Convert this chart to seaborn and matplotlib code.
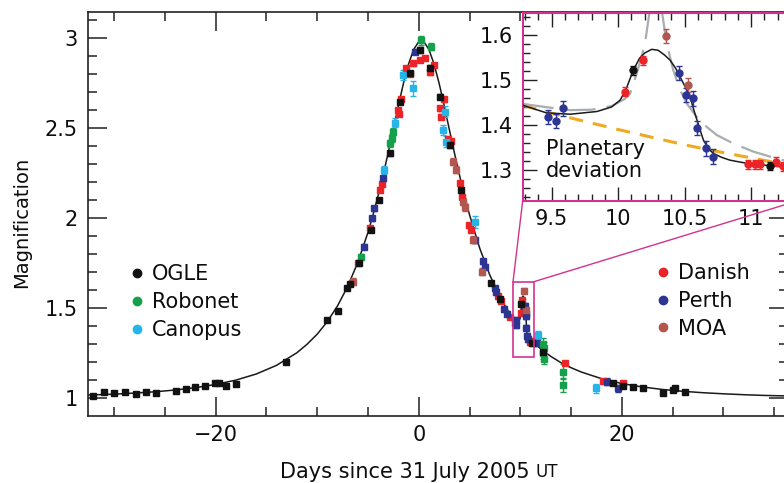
import matplotlib
matplotlib.use("Agg")
import matplotlib.pyplot as plt
import seaborn as sns
from matplotlib.lines import Line2D
from matplotlib.patches import Rectangle, ConnectionPatch
from matplotlib.ticker import MultipleLocator, FuncFormatter

sns.set_theme(style="ticks")
plt.rcParams["font.family"] = ["DejaVu Sans"]
plt.rcParams["axes.unicode_minus"] = True

# ---------------------------------------------------------------- model curves
# best-fit planetary model (days since 31 July 2005, magnification)
model_t = [-32.6, -30, -28, -26, -24, -22, -20, -18, -16, -14, -12, -11, -10, -9, -8, -7, -6, -5,
           -4.5, -4, -3.5, -3, -2.5, -2, -1.5, -1, -0.5, 0, 0.25, 0.5, 1, 1.5, 2, 2.5, 3, 3.5, 4,
           4.5, 5, 6, 7, 8, 8.5, 9,
           9.282, 9.46, 9.64, 9.84, 9.95, 10.014, 10.06, 10.114, 10.16, 10.2, 10.252, 10.3, 10.35,
           10.39, 10.43, 10.465, 10.5, 10.54, 10.57, 10.60, 10.64, 10.68, 10.715, 10.78, 10.84,
           10.93, 11.016, 11.13, 11.24, 11.352,
           11.75, 12.25, 13, 14, 15, 16, 18, 20, 22, 24, 26, 28, 30, 32, 34, 36.4]
model_a = [1.018, 1.023, 1.029, 1.036, 1.046, 1.059, 1.077, 1.101, 1.135, 1.183, 1.253, 1.300,
           1.356, 1.426, 1.513, 1.621, 1.755, 1.921, 2.019, 2.126, 2.242, 2.366, 2.496, 2.627,
           2.751, 2.858, 2.938, 2.981, 2.987, 2.981, 2.938, 2.858, 2.751, 2.627, 2.496, 2.366,
           2.242, 2.126, 2.019, 1.834, 1.684, 1.564, 1.513, 1.467,
           1.444, 1.427, 1.424, 1.430, 1.440, 1.455, 1.480, 1.522, 1.548, 1.560, 1.568, 1.566,
           1.555, 1.544, 1.527, 1.507, 1.487, 1.463, 1.432, 1.404, 1.367, 1.347, 1.337, 1.328,
           1.322, 1.317, 1.313, 1.310, 1.307, 1.304,
           1.287, 1.264, 1.233, 1.198, 1.170, 1.146, 1.109, 1.082, 1.063, 1.049, 1.039, 1.031,
           1.025, 1.020, 1.016, 1.013]

# single-lens (no planet) model across the anomaly
nopl_t = [9.282, 9.5, 9.75, 10.0, 10.25, 10.5, 10.75, 11.0, 11.25, 11.352]
nopl_a = [1.444, 1.426, 1.408, 1.390, 1.373, 1.356, 1.341, 1.327, 1.313, 1.307]

# alternative binary-source fit (two branches around the spike)
alt1_t = [9.282, 9.45, 9.64, 9.8, 9.95, 10.05, 10.09, 10.14, 10.2, 10.24]
alt1_a = [1.447, 1.440, 1.433, 1.434, 1.442, 1.458, 1.470, 1.515, 1.578, 1.66]
alt2_t = [10.327, 10.365, 10.414, 10.465, 10.515, 10.59, 10.665, 10.74, 10.865, 11.016, 11.14,
          11.24, 11.352]
alt2_a = [1.656, 1.580, 1.522, 1.478, 1.448, 1.418, 1.396, 1.378, 1.359, 1.341, 1.330, 1.322,
          1.316]

# ---------------------------------------------------------------- photometry
ogle_t = [-32.09, -31.03, -30.02, -28.87, -27.88, -26.83, -25.91, -23.94, -22.96, -22.0, -21.08,
          -20.1, -19.67, -18.95, -17.96, -13.03, -9.0, -7.95, -7.03, -6.8, -5.88, -4.66, -3.91,
          -2.86, -1.87, -0.89, 0.1, 1.08, 2.07, 3.05, 4.14, 7.09, 7.98, 10.114, 11.14, 12.19,
          19.08, 20.13, 21.11, 22.1, 24.0, 24.99, 25.2, 26.2]
ogle_a = [1.014, 1.037, 1.028, 1.037, 1.024, 1.033, 1.028, 1.042, 1.053, 1.063, 1.068, 1.083,
          1.083, 1.070, 1.078, 1.200, 1.435, 1.485, 1.611, 1.633, 1.753, 1.935, 2.102, 2.361,
          2.648, 2.806, 2.935, 2.833, 2.676, 2.407, 2.157, 1.639, 1.550, 1.522, 1.309, 1.259,
          1.083, 1.070, 1.065, 1.055, 1.028, 1.046, 1.055, 1.037]
ogle_e = [0.006] * 15 + [0.008, 0.008, 0.008, 0.010, 0.010, 0.012, 0.012, 0.012, 0.015, 0.015,
                          0.015, 0.018, 0.018, 0.015, 0.015, 0.012, 0.010, 0.010, 0.010, 0.008,
                          0.010, 0.008, 0.008, 0.008, 0.006, 0.006, 0.006, 0.008, 0.006]

robonet_t = [-5.65, -2.79, -2.59, -2.53, 0.27, 1.25, 12.2, 12.35, 12.25, 12.3, 14.22, 14.22]
robonet_a = [1.787, 2.417, 2.446, 2.480, 2.990, 2.953, 1.300, 1.280, 1.250, 1.220, 1.148, 1.074]
robonet_e = [0.012, 0.020, 0.020, 0.020, 0.025, 0.020, 0.035, 0.035, 0.030, 0.030, 0.040, 0.040]

canopus_t = [-3.45, -2.36, -1.55, -0.56, 2.39, 2.56, 2.73, 5.52, 11.75, 17.44]
canopus_a = [2.268, 2.530, 2.796, 2.722, 2.490, 2.592, 2.426, 1.980, 1.352, 1.055]
canopus_e = [0.020, 0.025, 0.030, 0.040, 0.030, 0.030, 0.030, 0.035, 0.020, 0.025]

danish_t = [-5.98, -4.76, -3.84, -3.6, -2.05, -1.94, -1.75, -1.21, -0.89, -0.6, 0.1, 0.59, 1.08,
            1.5, 2.07, 2.23, 2.5, 2.9, 3.2, 4.04, 4.3, 4.96, 5.19, 7.85, 8.1, 8.97, 10.051,
            10.184, 10.978, 11.03, 11.066, 11.19, 11.24, 14.38, 18.16, 20.13]
danish_a = [1.750, 1.944, 2.157, 2.190, 2.600, 2.580, 2.660, 2.833, 2.800, 2.860, 2.880, 2.889,
            2.810, 2.850, 2.610, 2.565, 2.660, 2.440, 2.430, 2.194, 2.120, 1.963, 1.935, 1.570,
            1.540, 1.453, 1.474, 1.544, 1.313, 1.313, 1.313, 1.318, 1.309, 1.194, 1.096, 1.083]
danish_e = [0.012] * 24 + [0.010] * 12

perth_t = [-5.42, -4.56, -4.43, -3.52, -0.39, 5.52, 6.3, 6.5, 7.5, 7.65, 8.4, 8.7, 9.474, 9.532,
           9.583, 10.46, 10.51, 10.56, 10.595, 10.66, 10.715, 11.6, 18.49, 19.64]
perth_a = [1.842, 2.000, 2.056, 2.222, 2.926, 1.879, 1.760, 1.731, 1.610, 1.592, 1.495, 1.470,
           1.418, 1.409, 1.437, 1.515, 1.467, 1.459, 1.393, 1.348, 1.330, 1.307, 1.092, 1.055]
perth_e = [0.015] * 12 + [0.016] * 9 + [0.015, 0.020, 0.020]

moa_t = [-6.47, 3.38, 3.7, 4.36, 4.6, 5.35, 6.18, 10.36, 10.527]
moa_a = [1.648, 2.314, 2.270, 2.092, 2.060, 1.880, 1.703, 1.598, 1.489]
moa_e = [0.020, 0.020, 0.020, 0.020, 0.020, 0.020, 0.020, 0.015, 0.015]

C_OGLE, C_ROBO, C_CANO = "#121212", "#17a04b", "#27b4e6"
C_DAN, C_PER, C_MOA = "#ec2327", "#2c3592", "#b2574f"
C_BOX, C_ALT, C_NOPL = "#d4318f", "#a9acb0", "#eeaa22"
C_TXT = "#0d0d0d"

sets = [
    ("Danish", danish_t, danish_a, danish_e, C_DAN),
    ("Perth", perth_t, perth_a, perth_e, C_PER),
    ("MOA", moa_t, moa_a, moa_e, C_MOA),
    ("Robonet", robonet_t, robonet_a, robonet_e, C_ROBO),
    ("Canopus", canopus_t, canopus_a, canopus_e, C_CANO),
    ("OGLE", ogle_t, ogle_a, ogle_e, C_OGLE),
]

FS = 15
fmt = FuncFormatter(lambda v, p: f"{v:g}".replace("-", "\u2212"))

fig = plt.figure(figsize=(7.84, 4.83), dpi=100)

# ---------------------------------------------------------------- main panel
ax = fig.add_axes([88 / 784, 67 / 483, 700 / 784, 404 / 483])
sns.lineplot(x=model_t, y=model_a, ax=ax, color="k", lw=1.1, sort=False, zorder=2)
for name, t, a, e, c in sets:
    ax.errorbar(t, a, yerr=e, fmt="s", ms=5, color=c, mec=c, ecolor=c, elinewidth=1,
                capsize=2, capthick=1, zorder=3)

x_lo, x_hi, y_lo, y_hi = 9.282, 11.352, 1.232, 1.648
ax.add_patch(Rectangle((x_lo, y_lo), x_hi - x_lo, y_hi - y_lo, fill=False, ec=C_BOX, lw=1.2,
                       zorder=5))

ax.set_xlim(-32.56, 36.35)
ax.set_ylim(0.9017, 3.146)
ax.xaxis.set_major_locator(MultipleLocator(20))
ax.xaxis.set_minor_locator(MultipleLocator(5))
ax.yaxis.set_major_locator(MultipleLocator(0.5))
ax.yaxis.set_minor_locator(MultipleLocator(0.1))
ax.xaxis.set_major_formatter(fmt)
ax.yaxis.set_major_formatter(fmt)
ax.tick_params(which="both", direction="in", top=True, right=True, width=1.1, colors="#222222",
               labelsize=FS, labelcolor=C_TXT)
ax.tick_params(which="major", length=14)
ax.tick_params(which="minor", length=6.5)
ax.tick_params(axis="y", pad=7.5)
ax.tick_params(axis="x", pad=6.5)
for s in ax.spines.values():
    s.set_linewidth(1.2)
    s.set_color("#222222")

# x label with the time standard set in smaller capitals
ax.set_xlabel("Days since 31 July 2005", fontsize=FS, color=C_TXT)
ax.xaxis.set_label_coords(0.452, -0.114)
ax.annotate("UT", xy=(1, 0), xycoords=ax.xaxis.label, xytext=(4.5, 1),
            textcoords="offset points", fontsize=12, color=C_TXT, ha="left", va="bottom")
ax.set_ylabel("Magnification", fontsize=14, color=C_TXT)
ax.yaxis.set_label_coords(-0.081, 0.48)

def handles(names, colors):
    return [Line2D([], [], marker="o", ls="", ms=6, color=c, mec=c, label=n)
            for n, c in zip(names, colors)]

leg_kw = dict(loc="upper left", frameon=False, fontsize=FS, handlelength=0.8,
              handletextpad=0.32, labelspacing=0.38, borderpad=0, borderaxespad=0,
              labelcolor=C_TXT)
leg1 = ax.legend(handles=handles(["OGLE", "Robonet", "Canopus"], [C_OGLE, C_ROBO, C_CANO]),
                 bbox_to_anchor=(0.0581, 0.3760), **leg_kw)
ax.add_artist(leg1)
ax.legend(handles=handles(["Danish", "Perth", "MOA"], [C_DAN, C_PER, C_MOA]),
          bbox_to_anchor=(0.8096, 0.3790), **leg_kw)

# ---------------------------------------------------------------- inset
ins = fig.add_axes([522.7 / 784, (483 - 200.7) / 483, 275.3 / 784, 187.4 / 483])
ins.set_facecolor("white")
ins.plot(nopl_t, nopl_a, color=C_NOPL, lw=2.2, dashes=(4.6, 3.3), zorder=2)
ins.plot(alt1_t, alt1_a, color=C_ALT, lw=1.6, dashes=(14, 5), zorder=2)
ins.plot(alt2_t, alt2_a, color=C_ALT, lw=1.6, dashes=(14, 5), zorder=2)
sns.lineplot(x=model_t, y=model_a, ax=ins, color="k", lw=1.1, sort=False, zorder=3)
for name, t, a, e, c in sets:
    ins.errorbar(t, a, yerr=e, fmt="o", ms=5, color=c, mec=c, ecolor=c, elinewidth=1,
                 capsize=2.5, capthick=1, zorder=4)
ins.set_xlim(x_lo, x_hi)
ins.set_ylim(y_lo, y_hi)
ins.xaxis.set_major_locator(MultipleLocator(0.5))
ins.xaxis.set_minor_locator(MultipleLocator(0.1))
ins.yaxis.set_major_locator(MultipleLocator(0.1))
ins.yaxis.set_minor_locator(MultipleLocator(0.02))
ins.xaxis.set_major_formatter(fmt)
ins.yaxis.set_major_formatter(FuncFormatter(lambda v, p: f"{v:.1f}"))
ins.tick_params(which="both", direction="in", top=True, right=True, width=1.0,
                colors="#222222", labelsize=FS, labelcolor=C_TXT)
ins.tick_params(which="major", length=10)
ins.tick_params(which="minor", length=5)
ins.tick_params(axis="y", pad=7)
ins.tick_params(axis="x", pad=6)
for s in ins.spines.values():
    s.set_linewidth(1.5)
    s.set_color(C_BOX)
ins.text(0.085, 0.217, "Planetary\ndeviation", transform=ins.transAxes, fontsize=FS,
         ha="left", va="center", linespacing=1.1, color=C_TXT, zorder=6)

for xy_in, xy_box in [((0, 0), (x_lo, y_hi)), ((1, 0), (x_hi, y_hi))]:
    fig.add_artist(ConnectionPatch(xyA=xy_in, coordsA=ins.transAxes, xyB=xy_box,
                                   coordsB=ax.transData, color=C_BOX, lw=1.0))

fig.savefig("out.png", dpi=100)
